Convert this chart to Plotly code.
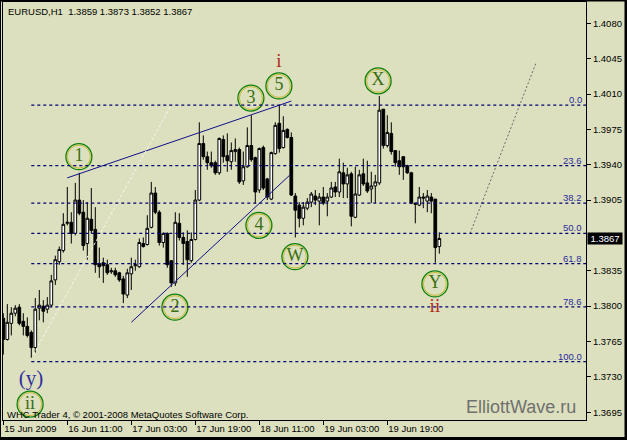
import plotly.graph_objects as go

# ---------------- data (EURUSD H1) ----------------
bar_index = list(range(110))
opens = [1.3788, 1.3767, 1.3783, 1.3793, 1.3799, 1.3785, 1.3780, 1.3774, 1.3759, 1.3798,
         1.3800, 1.3797, 1.3801, 1.3826, 1.3844, 1.3855, 1.3882, 1.3883, 1.3872, 1.3905,
         1.3893, 1.3862, 1.3886, 1.3876, 1.3842, 1.3843, 1.3841, 1.3834, 1.3835, 1.3833,
         1.3827, 1.3811, 1.3832, 1.3840, 1.3839, 1.3862, 1.3861, 1.3878, 1.3912, 1.3893,
         1.3863, 1.3872, 1.3845, 1.3823, 1.3882, 1.3868, 1.3864, 1.3845, 1.3866, 1.3905,
         1.3961, 1.3948, 1.3942, 1.3942, 1.3932, 1.3965, 1.3949, 1.3943, 1.3953, 1.3955,
         1.3924, 1.3938, 1.3959, 1.3947, 1.3915, 1.3957, 1.3926, 1.3906, 1.3951, 1.3981,
         1.3957, 1.3975, 1.3967, 1.3909, 1.3900, 1.3887, 1.3897, 1.3903, 1.3909, 1.3904,
         1.3908, 1.3904, 1.3908, 1.3918, 1.3913, 1.3932, 1.3921, 1.3931, 1.3888, 1.3910,
         1.3931, 1.3922, 1.3916, 1.3919, 1.3922, 1.3995, 1.3959, 1.3971, 1.3954, 1.3944,
         1.3948, 1.3939, 1.3932, 1.3902, 1.3900, 1.3908, 1.3904, 1.3908, 1.3906, 1.3859]
highs = [1.3793, 1.3802, 1.3799, 1.3801, 1.3802, 1.3793, 1.3789, 1.3776, 1.3808, 1.3816,
         1.3806, 1.3809, 1.3831, 1.3850, 1.3859, 1.3892, 1.3918, 1.3893, 1.3922, 1.3932,
         1.3905, 1.3903, 1.3917, 1.3898, 1.3858, 1.3848, 1.3846, 1.3838, 1.3838, 1.3834,
         1.3830, 1.3837, 1.3848, 1.3846, 1.3867, 1.3868, 1.3890, 1.3923, 1.3918, 1.3895,
         1.3873, 1.3873, 1.3845, 1.3893, 1.3892, 1.3873, 1.3875, 1.3873, 1.3915, 1.3982,
         1.3969, 1.3953, 1.3953, 1.3944, 1.3967, 1.3969, 1.3971, 1.3962, 1.3966, 1.3957,
         1.3953, 1.3977, 1.3989, 1.3948, 1.3957, 1.3959, 1.3927, 1.3953, 1.3982, 1.3999,
         1.3988, 1.3976, 1.3972, 1.3912, 1.3903, 1.3903, 1.3907, 1.3913, 1.3915, 1.3912,
         1.3918, 1.3912, 1.3923, 1.3923, 1.3946, 1.3942, 1.3937, 1.3933, 1.3938, 1.3935,
         1.3946, 1.3944, 1.3933, 1.3930, 1.4008, 1.3995, 1.3989, 1.3982, 1.3954, 1.3954,
         1.3948, 1.3940, 1.3933, 1.3902, 1.3918, 1.3912, 1.3915, 1.3912, 1.3906, 1.3873]
lows = [1.3752, 1.3766, 1.3771, 1.3790, 1.3781, 1.3771, 1.3769, 1.3749, 1.3754, 1.3786,
        1.3784, 1.3793, 1.3799, 1.3821, 1.3841, 1.3853, 1.3880, 1.3862, 1.3870, 1.3890,
        1.3855, 1.3846, 1.3872, 1.3833, 1.3828, 1.3823, 1.3831, 1.3832, 1.3829, 1.3824,
        1.3803, 1.3808, 1.3816, 1.3835, 1.3838, 1.3858, 1.3860, 1.3877, 1.3891, 1.3860,
        1.3858, 1.3838, 1.3819, 1.3820, 1.3865, 1.3841, 1.3829, 1.3843, 1.3865, 1.3904,
        1.3945, 1.3935, 1.3937, 1.3930, 1.3930, 1.3942, 1.3933, 1.3935, 1.3943, 1.3921,
        1.3920, 1.3937, 1.3943, 1.3902, 1.3912, 1.3915, 1.3905, 1.3905, 1.3950, 1.3952,
        1.3956, 1.3966, 1.3909, 1.3868, 1.3878, 1.3880, 1.3895, 1.3898, 1.3900, 1.3880,
        1.3900, 1.3889, 1.3907, 1.3908, 1.3908, 1.3907, 1.3907, 1.3879, 1.3887, 1.3909,
        1.3919, 1.3912, 1.3902, 1.3902, 1.3920, 1.3956, 1.3957, 1.3950, 1.3938, 1.3930,
        1.3925, 1.3931, 1.3901, 1.3882, 1.3899, 1.3897, 1.3893, 1.3892, 1.3843, 1.3852]
closes = [1.3767, 1.3784, 1.3793, 1.3798, 1.3783, 1.3780, 1.3771, 1.3759, 1.3797, 1.3801,
          1.3795, 1.3801, 1.3825, 1.3846, 1.3856, 1.3881, 1.3883, 1.3872, 1.3905, 1.3892,
          1.3860, 1.3887, 1.3875, 1.3841, 1.3839, 1.3840, 1.3833, 1.3835, 1.3831, 1.3826,
          1.3812, 1.3833, 1.3839, 1.3841, 1.3863, 1.3859, 1.3877, 1.3912, 1.3893, 1.3863,
          1.3872, 1.3841, 1.3823, 1.3883, 1.3868, 1.3862, 1.3846, 1.3866, 1.3905, 1.3961,
          1.3948, 1.3942, 1.3939, 1.3932, 1.3966, 1.3948, 1.3944, 1.3954, 1.3955, 1.3923,
          1.3938, 1.3959, 1.3945, 1.3913, 1.3956, 1.3917, 1.3908, 1.3952, 1.3979, 1.3956,
          1.3974, 1.3967, 1.3910, 1.3895, 1.3887, 1.3898, 1.3903, 1.3911, 1.3905, 1.3908,
          1.3902, 1.3908, 1.3917, 1.3913, 1.3933, 1.3921, 1.3930, 1.3889, 1.3911, 1.3930,
          1.3921, 1.3914, 1.3919, 1.3923, 1.3994, 1.3959, 1.3972, 1.3953, 1.3942, 1.3938,
          1.3938, 1.3932, 1.3902, 1.3901, 1.3908, 1.3907, 1.3909, 1.3904, 1.3858, 1.3867]

tick_bars = [0, 16, 32, 48, 64, 80, 96]
tick_labels = ["15 Jun 2009", "16 Jun 11:00", "17 Jun 03:00", "17 Jun 19:00",
               "18 Jun 11:00", "19 Jun 03:00", "19 Jun 19:00"]
price_ticks = [1.4080, 1.4045, 1.4010, 1.3975, 1.3940, 1.3905,
               1.3835, 1.3800, 1.3765, 1.3730, 1.3695]
last_price = 1.3867

fib_pcts = [0.0, 23.6, 38.2, 50.0, 61.8, 78.6, 100.0]
fib_high = 1.3999
fib_low = 1.3745
fib_start_bar = 7

wave_labels = ["1", "2", "3", "4", "5", "W", "X", "Y", "ii"]
wave_x = [18.9, 42.9, 61.9, 63.9, 68.9, 72.9, 93.7, 107.9, 6.7]
wave_y = [1.3948, 1.3799, 1.4006, 1.3880, 1.4018, 1.3849, 1.4023, 1.3822, 1.3703]

degree_labels = ["i", "ii"]
degree_x = [68.9, 107.9]
degree_y = [1.4041, 1.3799]

upper_line_x = [16, 72]
upper_line_y = [1.3927, 1.4003]
lower_line_x = [32, 71.7]
lower_line_y = [1.3784, 1.3930]
fib_diag_x = [7.5, 41.7]
fib_diag_y = [1.3752, 1.3997]
proj_x = [116.7, 133.2]
proj_y = [1.3872, 1.4041]

# ---------------- figure ----------------
W, H = 627, 440
ML, MR, MT, MB = 3, 41, 2, 20
PW, PH = W - ML - MR, H - MT - MB
BG = "#DCE0BE"
NAVY = "#000070"
FONT = "Liberation Sans"

fig = go.Figure()

fig.add_trace(go.Candlestick(
    x=bar_index, open=opens, high=highs, low=lows, close=closes,
    increasing=dict(line=dict(color="black", width=1), fillcolor="white"),
    decreasing=dict(line=dict(color="black", width=1), fillcolor="black"),
    whiskerwidth=0, hoverinfo="skip", showlegend=False))

for lx, ly, col, dash in [(upper_line_x, upper_line_y, "#10108A", "solid"),
                          (lower_line_x, lower_line_y, "#10108A", "solid"),
                          (fib_diag_x, fib_diag_y, "#F6F6EE", "3px,2px"),
                          (proj_x, proj_y, "#6A6A6A", "2px,2px")]:
    fig.add_trace(go.Scatter(x=lx, y=ly, mode="lines",
                             line=dict(color=col, width=1, dash=dash),
                             hoverinfo="skip", showlegend=False))

# circled wave labels
fig.add_trace(go.Scatter(x=wave_x, y=wave_y, mode="markers",
                         marker=dict(size=23, color="rgba(0,0,0,0)",
                                     line=dict(color="#C8B830", width=1)),
                         hoverinfo="skip", showlegend=False))
fig.add_trace(go.Scatter(x=wave_x, y=wave_y, mode="markers+text",
                         text=wave_labels, textposition="middle center",
                         textfont=dict(family="Liberation Serif", size=18, color="#3A6E12"),
                         marker=dict(size=26, color="rgba(0,0,0,0)",
                                     line=dict(color="#0E800E", width=1.3)),
                         hoverinfo="skip", showlegend=False))
fig.add_trace(go.Scatter(x=degree_x, y=degree_y, mode="text",
                         text=degree_labels, textposition="middle center",
                         textfont=dict(family="Liberation Serif", size=19, color="#B02A1A"),
                         hoverinfo="skip", showlegend=False))
fig.add_trace(go.Scatter(x=[6.9], y=[1.3727], mode="text", text=["(y)"],
                         textposition="middle center",
                         textfont=dict(family="Liberation Serif", size=21, color="#30309E"),
                         hoverinfo="skip", showlegend=False))

shapes = []
annotations = []
x_max = (W - MR - ML - 0.3) / 4.0
for p in fib_pcts:
    lvl = fib_high - p / 100.0 * (fib_high - fib_low)
    shapes.append(dict(type="line", xref="x", yref="y", x0=fib_start_bar, x1=x_max + 1,
                       y0=lvl, y1=lvl, line=dict(color=NAVY, width=1.2, dash="3px,3px")))
    annotations.append(dict(xref="paper", yref="y", x=1, y=lvl, xanchor="right",
                            yanchor="bottom", xshift=-2, yshift=-2, showarrow=False,
                            text=f"{p:.1f}", font=dict(family=FONT, size=9.5, color="#2B2B9F")))

# window frame
def px(xp):
    return (xp - ML) / PW

def py(yp):
    return 1 - (yp - MT) / PH

shapes += [
    dict(type="line", xref="paper", yref="paper", x0=px(626), x1=px(626), y0=py(0), y1=py(440),
         line=dict(color="black", width=3)),
    dict(type="line", xref="paper", yref="paper", x0=px(0), x1=px(627), y0=py(438.5), y1=py(438.5),
         line=dict(color="black", width=3)),
    dict(type="line", xref="paper", yref="paper", x0=px(0), x1=px(627), y0=py(0.5), y1=py(0.5),
         line=dict(color="black", width=2)),
    dict(type="line", xref="paper", yref="paper", x0=px(0.5), x1=px(0.5), y0=py(0), y1=py(440),
         line=dict(color="black", width=1)),
]

annotations += [
    dict(xref="paper", yref="paper", x=px(6), y=py(4), xanchor="left", yanchor="top",
         showarrow=False, text="EURUSD,H1  1.3859 1.3873 1.3852 1.3867",
         font=dict(family=FONT, size=9.5, color="black")),
    dict(xref="paper", yref="paper", x=px(5), y=py(414), xanchor="left", yanchor="middle",
         showarrow=False, text="WHC Trader 4, © 2001-2008 MetaQuotes Software Corp.",
         font=dict(family=FONT, size=9.5, color="black")),
    dict(xref="paper", yref="paper", x=px(578), y=py(407), xanchor="right", yanchor="middle",
         showarrow=False, text="ElliottWave.ru",
         font=dict(family=FONT, size=18, color="#707070")),
    dict(xref="paper", yref="y", x=px(587), y=last_price, xanchor="left", yanchor="middle",
         showarrow=False, text=f"{last_price:.4f}", bgcolor="black", width=34, height=11,
         borderpad=0, font=dict(family=FONT, size=9.5, color="white")),
]

fig.update_layout(
    width=W, height=H, margin=dict(l=ML, r=MR, t=MT, b=MB),
    paper_bgcolor=BG, plot_bgcolor=BG, showlegend=False,
    boxgap=0.32, boxgroupgap=0,
    font=dict(family=FONT, size=9.5, color="black"),
    shapes=shapes, annotations=annotations,
    xaxis=dict(range=[-0.075, x_max], showgrid=False, zeroline=False,
               rangeslider=dict(visible=False),
               tickmode="array", tickvals=tick_bars, ticktext=tick_labels,
               ticks="outside", ticklen=4, tickcolor="black",
               ticklabelposition="outside right",
               showline=True, linecolor="black", linewidth=1, mirror=True,
               tickfont=dict(family=FONT, size=9.5, color="black")),
    yaxis=dict(range=[1.36873, 1.41011], side="right", showgrid=False, zeroline=False,
               tickmode="array", tickvals=price_ticks,
               ticktext=[f"{v:.4f}" for v in price_ticks],
               ticks="outside", ticklen=4, tickcolor="black",
               showline=True, linecolor="black", linewidth=1, mirror=True,
               tickfont=dict(family=FONT, size=9.5, color="black")),
)

fig.write_html("out.html", config={"displayModeBar": False},
               post_script="document.body.style.margin='0';document.body.style.padding='0';"
                           "document.body.style.overflow='hidden';document.body.style.background='" + BG + "';")
